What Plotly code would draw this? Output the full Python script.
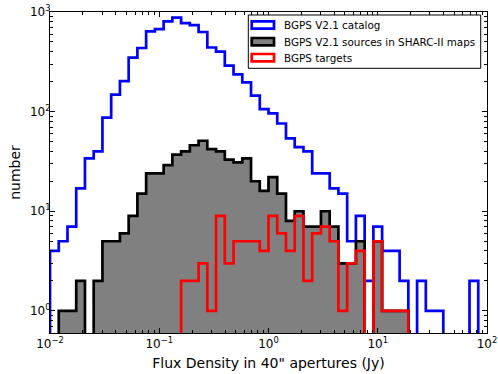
import numpy as np
import plotly.graph_objects as go

# histogram bins: log-spaced, 0.08 dex wide starting at 0.01 Jy
LOG_EDGE_START = -2.0
LOG_BIN_WIDTH = 0.08
N_BINS = 49

catalog_counts = [4, 5, 7, 17, 34, 40, 87, 148, 202, 349, 435, 640, 674, 805, 877, 774,
                  739, 630, 440, 400, 290, 237, 197, 145, 106, 96, 76, 54, 44, 40, 24, 24,
                  17, 15, 5, 9, 2, 7, 4, 4, 2, 0, 2, 1, 1, 0, 0, 0, 2]
sharc_counts = [0, 1, 1, 2, 0, 2, 5, 5, 6, 9, 15, 24, 24, 29, 37, 40,
                46, 51, 42, 40, 33, 31, 34, 20, 16, 22, 15, 8, 10, 7, 7, 10,
                7, 3, 3, 5, 0, 5, 1, 1, 1, 0, 0, 0, 0, 0, 0, 0, 0]
target_counts = [0, 0, 0, 0, 0, 0, 0, 0, 0, 0, 0, 0, 0, 0, 0, 2,
                 2, 3, 1, 9, 3, 5, 5, 5, 4, 9, 6, 4, 9, 2, 6, 7,
                 5, 1, 3, 4, 0, 5, 1, 1, 1, 0, 0, 0, 0, 0, 0, 0, 0]

series_names = ["BGPS V2.1 catalog", "BGPS V2.1 sources in SHARC-II maps", "BGPS targets"]

x_tickvals = [0.01, 0.1, 1, 10, 100]
x_ticktext = ["10<sup>−2</sup>", "10<sup>−1</sup>", "10<sup>0</sup>", "10<sup>1</sup>", "10<sup>2</sup>"]
y_tickvals = [1, 10, 100, 1000]
y_ticktext = ["10<sup>0</sup>", "10<sup>1</sup>", "10<sup>2</sup>", "10<sup>3</sup>"]

edges = 10 ** (LOG_EDGE_START + LOG_BIN_WIDTH * np.arange(N_BINS + 1))
FLOOR = 1e-2  # below the visible range, stands in for zero on the log axis


def step_path(counts):
    xs, ys = [edges[0]], [FLOOR]
    for i, c in enumerate(counts):
        v = c if c > 0 else FLOOR
        xs += [edges[i], edges[i + 1]]
        ys += [v, v]
    xs.append(edges[-1])
    ys.append(FLOOR)
    return xs, ys


fig = go.Figure()

x, y = step_path(catalog_counts)
fig.add_trace(go.Scatter(x=x, y=y, mode="lines", line=dict(color="#0000ff", width=2.7),
                         name=series_names[0], showlegend=False))
x, y = step_path(sharc_counts)
fig.add_trace(go.Scatter(x=x, y=y, mode="lines", fill="toself", fillcolor="#808080",
                         line=dict(color="black", width=2.7), name=series_names[1], showlegend=False))
x, y = step_path(target_counts)
fig.add_trace(go.Scatter(x=x, y=y, mode="lines", line=dict(color="#ff0000", width=2.7),
                         name=series_names[2], showlegend=False))

# legend drawn by hand to get matplotlib style rectangle patches
shapes = [dict(type="rect", xref="paper", yref="paper", x0=0.4538, x1=0.9856, y0=0.8246, y1=0.9907,
               line=dict(color="black", width=1), fillcolor="white")]
patch_styles = [("#0000ff", "white"), ("black", "#808080"), ("#ff0000", "white")]
row_y = [0.9595, 0.9075, 0.8576]
annotations = []
for (lc, fc), yc, name in zip(patch_styles, row_y, series_names):
    shapes.append(dict(type="rect", xref="paper", yref="paper", x0=0.4616, x1=0.5126,
                       y0=yc - 0.0115, y1=yc + 0.0115, line=dict(color=lc, width=2.7), fillcolor=fc))
    annotations.append(dict(xref="paper", yref="paper", x=0.5300, y=yc, text=name, showarrow=False,
                            xanchor="left", yanchor="middle", font=dict(size=10.4, color="black")))

fig.update_layout(
    width=498, height=374,
    margin=dict(l=50, r=11, t=12, b=41),
    paper_bgcolor="white", plot_bgcolor="white",
    font=dict(family="DejaVu Sans", size=12, color="black"),
    shapes=shapes, annotations=annotations,
)
fig.update_xaxes(type="log", range=[-2, 2], tickmode="array", tickvals=x_tickvals, ticktext=x_ticktext,
                 ticks="inside", ticklen=5, tickcolor="black", showline=True, linecolor="black",
                 linewidth=1, mirror="allticks", showgrid=False, zeroline=False, automargin=False,
                 minor=dict(ticks="inside", ticklen=3, tickcolor="black", dtick="D1", showgrid=False),
                 title=dict(text="Flux Density in 40\" apertures (Jy)", standoff=7))
fig.update_yaxes(type="log", range=[np.log10(0.6), 3], tickmode="array", tickvals=y_tickvals,
                 ticktext=y_ticktext, ticks="inside", ticklen=5, tickcolor="black", showline=True,
                 linecolor="black", linewidth=1, mirror="allticks", showgrid=False, zeroline=False,
                 automargin=False, ticklabelstandoff=-4,
                 minor=dict(ticks="inside", ticklen=3, tickcolor="black", dtick="D1", showgrid=False),
                 title=dict(text="number", standoff=6))

# drop the page's default body margin so the figure sits at the window corner
fig.write_html("out.html", config={"displayModeBar": False},
               post_script="document.body.style.margin='0';")
